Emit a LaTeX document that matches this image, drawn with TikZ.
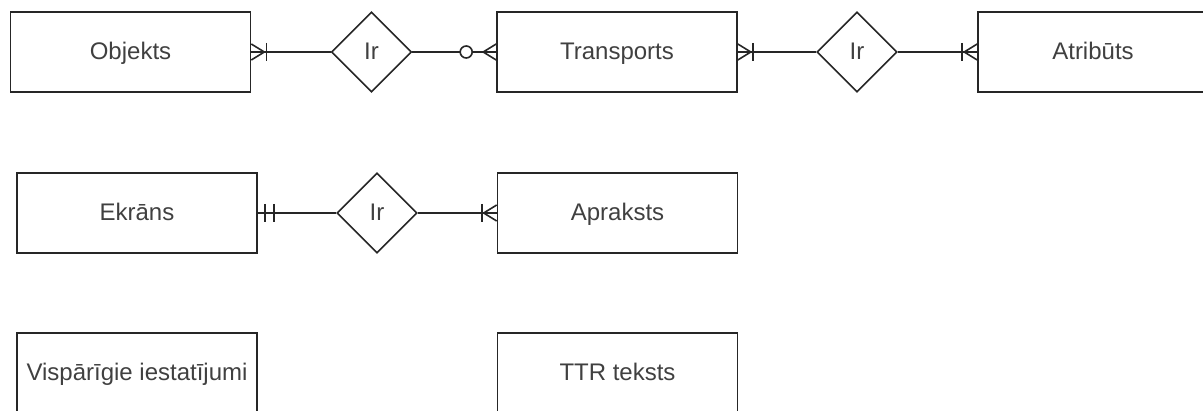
\documentclass[tikz,border=0pt]{standalone}
\usepackage{fontspec}
\setmainfont{Liberation Sans}
\usetikzlibrary{shapes.geometric}

\tikzset{
  er/.style={draw=black!85, line width=1.6pt},
  ent/.style={er, rectangle, minimum width=240pt, minimum height=80pt, inner sep=0pt,
    text=black!75, font=\fontsize{24}{28}\selectfont, text height=19.5pt, text depth=4.5pt},
  rel/.style={er, diamond, minimum width=80pt, minimum height=80pt, inner sep=0pt,
    text=black!75, font=\fontsize{24}{28}\selectfont, text height=19.5pt, text depth=4.5pt},
}

% crow's foot parts; #1 = anchor on the entity, #2 = side (1 right, -1 left)
\newcommand{\erMany}[2]{%
  \draw[er] ([xshift=#2*13pt]#1) -- ([yshift=8pt]#1)
            ([xshift=#2*13pt]#1) -- ([yshift=-8pt]#1);}
\newcommand{\erBar}[3]{%
  \draw[er] ([xshift=#2*#3pt, yshift=9pt]#1) -- ([xshift=#2*#3pt, yshift=-9pt]#1);}
\newcommand{\erZero}[2]{%
  \draw[er, fill=white] ([xshift=#2*30pt]#1) circle (6pt);}

\begin{document}
\begin{tikzpicture}[x=1pt, y=-1pt]
    \useasboundingbox (0,0) rectangle (1203,411);
    \node[ent] (A0_0) at (130.5, 52) {Objekts};
    \node[rel] (A0_1) at (371.5, 52) {Ir};
    \node[ent] (A0_2) at (617, 52) {Transports};
    \node[rel] (A0_3) at (857, 52) {Ir};
    \node[ent, minimum width=230pt] (A0_4) at (1093, 52) {Atribūts};
    \node[ent] (A1_0) at (137, 213) {Ekrāns};
    \node[rel] (A1_1) at (377, 213) {Ir};
    \node[ent] (A1_2) at (617.5, 213) {Apraksts};
    \node[ent] (A2_0) at (137, 373) {Vispārīgie iestatījumi};
    \node[ent] (A2_2) at (617.5, 373) {TTR teksts};
    \path (A0_0) edge [er] (A0_1);
    \path (A0_1) edge [er] (A0_2);
    \path (A0_2) edge [er] (A0_3);
    \path (A0_3) edge [er] (A0_4);
    \path (A1_0) edge [er] (A1_1);
    \path (A1_1) edge [er] (A1_2);
    % ends of the relations
    \erMany{A0_0.east}{1} \erBar{A0_0.east}{1}{15}
    \erMany{A0_2.west}{-1} \erZero{A0_2.west}{-1}
    \erMany{A0_2.east}{1} \erBar{A0_2.east}{1}{15}
    \erMany{A0_4.west}{-1} \erBar{A0_4.west}{-1}{15}
    \erBar{A1_0.east}{1}{7} \erBar{A1_0.east}{1}{16}
    \erMany{A1_2.west}{-1} \erBar{A1_2.west}{-1}{15}
\end{tikzpicture}
\end{document}
